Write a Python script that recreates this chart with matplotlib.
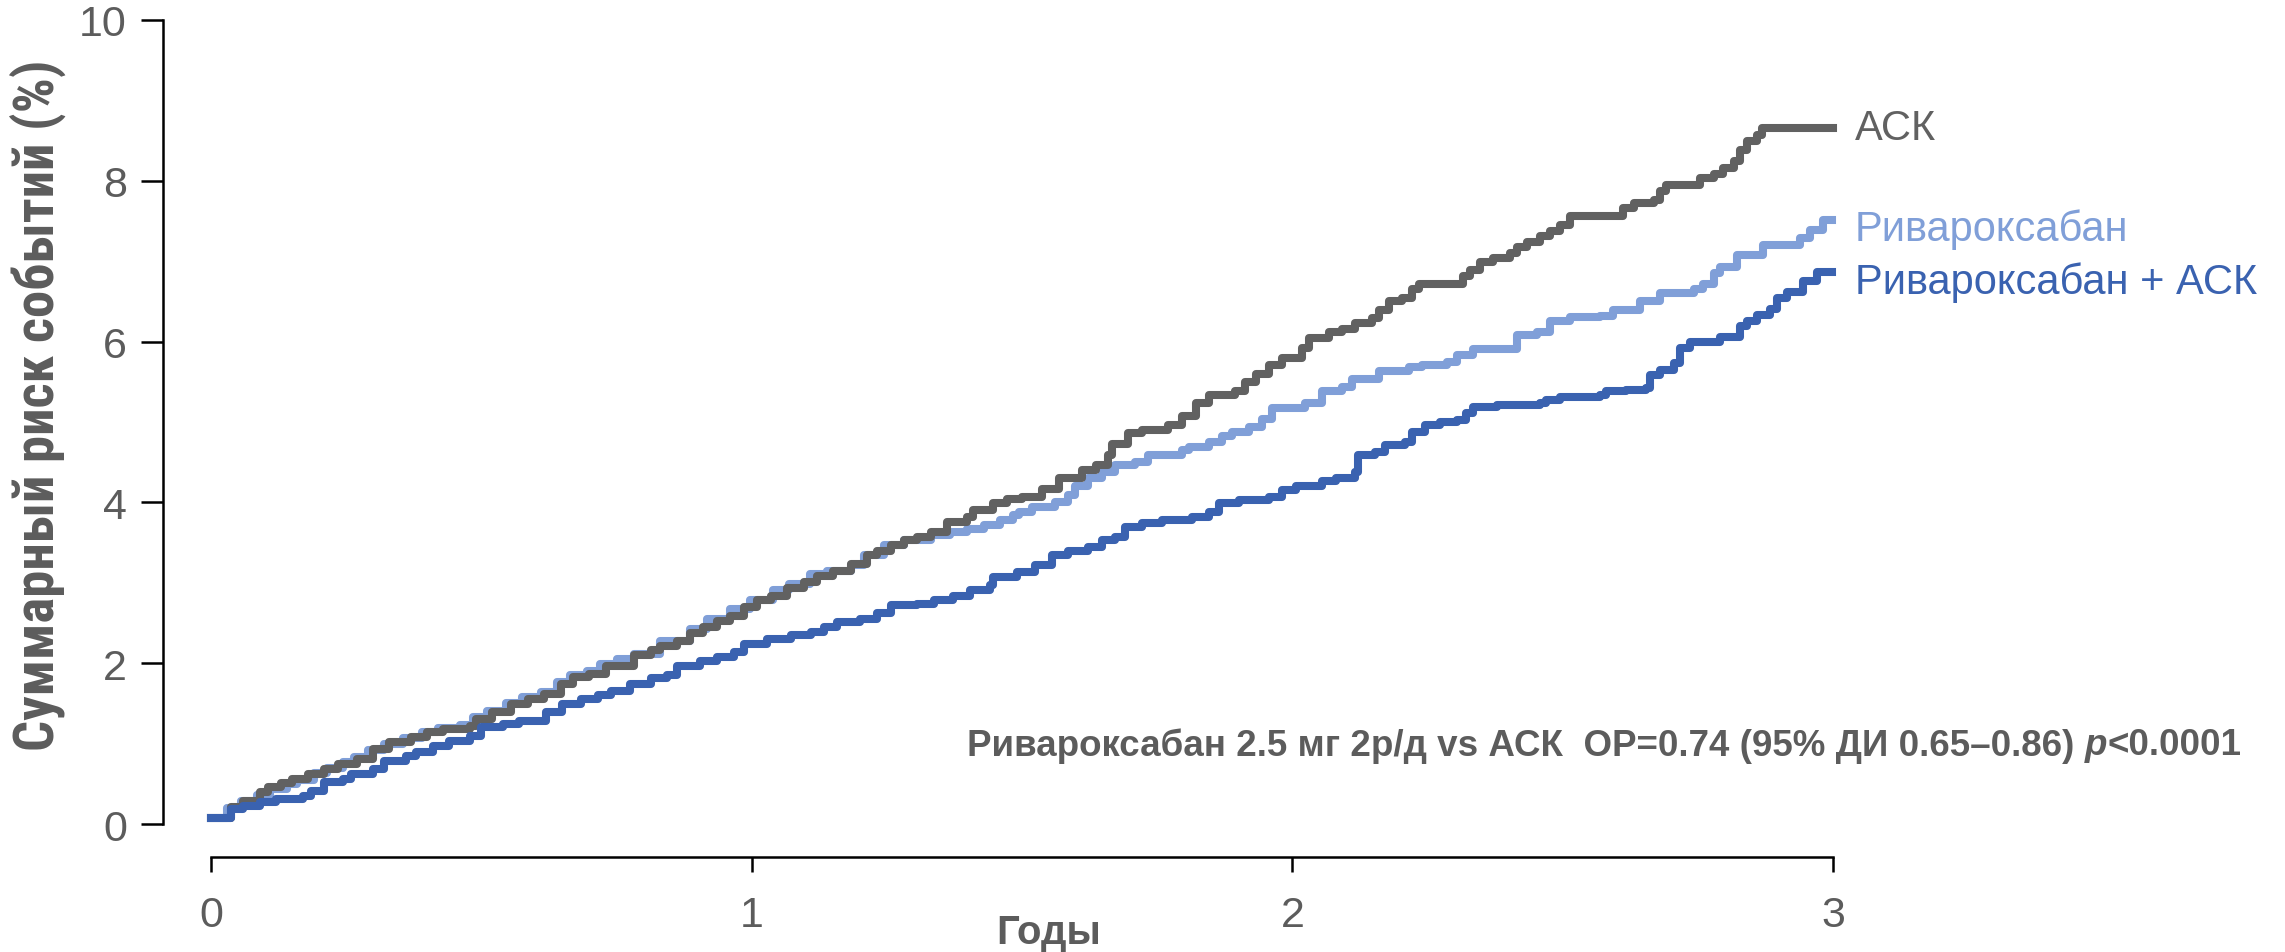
import matplotlib
matplotlib.use("Agg")
from matplotlib import pyplot as plt
from matplotlib import font_manager

# cumulative event risk (%)
ask_t = [0.00, 0.037, 0.06, 0.09, 0.105, 0.13, 0.15, 0.18, 0.21, 0.235, 0.27, 0.30, 0.33, 0.37,
         0.40, 0.43, 0.48, 0.49, 0.52, 0.555, 0.586, 0.616, 0.647, 0.67, 0.70, 0.73, 0.782,
         0.813, 0.831, 0.862, 0.886, 0.911, 0.936, 0.96, 0.985, 1.01, 1.035, 1.066, 1.096,
         1.121, 1.151, 1.183, 1.213, 1.232, 1.257, 1.281, 1.306, 1.331, 1.361, 1.398, 1.41,
         1.447, 1.472, 1.50, 1.537, 1.568, 1.611, 1.636, 1.66, 1.666, 1.697, 1.722, 1.771,
         1.796, 1.821, 1.845, 1.894, 1.913, 1.932, 1.956, 1.981, 2.018, 2.03, 2.067, 2.092,
         2.116, 2.147, 2.16, 2.178, 2.203, 2.222, 2.235, 2.316, 2.329, 2.347, 2.372, 2.403,
         2.415, 2.434, 2.458, 2.477, 2.495, 2.514, 2.612, 2.631, 2.668, 2.68, 2.692, 2.754,
         2.779, 2.797, 2.816, 2.828, 2.841, 2.859, 2.868, 3.00]
ask_v = [0.08, 0.21, 0.29, 0.40, 0.46, 0.51, 0.56, 0.62, 0.68, 0.75, 0.81, 0.93, 1.02, 1.08,
         1.15, 1.18, 1.22, 1.31, 1.39, 1.49, 1.56, 1.62, 1.74, 1.83, 1.87, 1.97, 2.10,
         2.16, 2.22, 2.28, 2.37, 2.45, 2.53, 2.59, 2.70, 2.78, 2.84, 2.93, 3.01,
         3.09, 3.15, 3.24, 3.34, 3.40, 3.47, 3.53, 3.57, 3.63, 3.76, 3.82, 3.90,
         3.99, 4.04, 4.07, 4.17, 4.30, 4.40, 4.46, 4.59, 4.73, 4.86, 4.90, 4.96,
         5.08, 5.23, 5.33, 5.38, 5.50, 5.60, 5.71, 5.79, 5.92, 6.04, 6.12, 6.16,
         6.23, 6.29, 6.39, 6.50, 6.54, 6.66, 6.71, 6.81, 6.89, 6.99, 7.04, 7.10,
         7.18, 7.24, 7.31, 7.37, 7.45, 7.56, 7.66, 7.72, 7.76, 7.87, 7.95, 8.03,
         8.09, 8.16, 8.24, 8.38, 8.49, 8.57, 8.66, 8.66]

riva_t = [0.00, 0.03, 0.055, 0.085, 0.11, 0.14, 0.16, 0.19, 0.215, 0.245, 0.265, 0.29, 0.32,
          0.355, 0.39, 0.42, 0.46, 0.485, 0.51, 0.545, 0.575, 0.61, 0.64, 0.665, 0.695, 0.72,
          0.751, 0.782, 0.831, 0.886, 0.917, 0.96, 0.997, 1.04, 1.07, 1.108, 1.14, 1.183,
          1.207, 1.244, 1.281, 1.331, 1.367, 1.398, 1.429, 1.46, 1.484, 1.495, 1.518, 1.562,
          1.586, 1.598, 1.623, 1.648, 1.672, 1.709, 1.734, 1.796, 1.808, 1.845, 1.87, 1.888,
          1.919, 1.944, 1.962, 2.024, 2.055, 2.092, 2.11, 2.16, 2.215, 2.24, 2.286, 2.304,
          2.335, 2.415, 2.452, 2.477, 2.514, 2.569, 2.594, 2.643, 2.68, 2.742, 2.76, 2.779,
          2.791, 2.822, 2.871, 2.939, 2.957, 2.982, 2.998]
riva_v = [0.08, 0.20, 0.28, 0.36, 0.43, 0.50, 0.55, 0.63, 0.70, 0.77, 0.83, 0.92, 1.00,
          1.07, 1.14, 1.19, 1.23, 1.33, 1.41, 1.50, 1.58, 1.64, 1.76, 1.85, 1.90, 1.99,
          2.05, 2.12, 2.28, 2.43, 2.55, 2.68, 2.78, 2.91, 2.99, 3.11, 3.15, 3.22,
          3.34, 3.47, 3.53, 3.59, 3.63, 3.67, 3.72, 3.78, 3.84, 3.88, 3.94, 4.00,
          4.09, 4.21, 4.30, 4.38, 4.46, 4.50, 4.59, 4.65, 4.69, 4.75, 4.82, 4.88,
          4.94, 5.04, 5.17, 5.23, 5.38, 5.44, 5.54, 5.63, 5.69, 5.71, 5.75, 5.83,
          5.91, 6.08, 6.12, 6.25, 6.30, 6.32, 6.39, 6.50, 6.60, 6.66, 6.72, 6.85,
          6.93, 7.08, 7.20, 7.29, 7.39, 7.51, 7.51]

combo_t = [0.00, 0.037, 0.06, 0.09, 0.12, 0.17, 0.185, 0.21, 0.245, 0.26, 0.30, 0.32, 0.36,
           0.38, 0.41, 0.44, 0.48, 0.50, 0.54, 0.57, 0.62, 0.65, 0.685, 0.715, 0.74, 0.775,
           0.813, 0.843, 0.862, 0.905, 0.936, 0.967, 0.985, 1.029, 1.072, 1.109, 1.133, 1.158,
           1.201, 1.232, 1.257, 1.306, 1.337, 1.373, 1.404, 1.441, 1.447, 1.49, 1.525, 1.555,
           1.586, 1.623, 1.648, 1.672, 1.691, 1.722, 1.759, 1.814, 1.845, 1.864, 1.901, 1.956,
           1.981, 2.006, 2.055, 2.08, 2.116, 2.122, 2.153, 2.172, 2.209, 2.222, 2.245, 2.273,
           2.304, 2.322, 2.335, 2.378, 2.458, 2.47, 2.495, 2.569, 2.581, 2.618, 2.655, 2.662,
           2.68, 2.705, 2.717, 2.736, 2.791, 2.828, 2.841, 2.859, 2.884, 2.896, 2.915, 2.945,
           2.97, 2.998]
combo_v = [0.08, 0.19, 0.22, 0.27, 0.31, 0.35, 0.41, 0.52, 0.56, 0.62, 0.68, 0.78, 0.85,
           0.90, 0.97, 1.03, 1.10, 1.21, 1.25, 1.28, 1.39, 1.49, 1.56, 1.60, 1.66, 1.74,
           1.81, 1.85, 1.97, 2.03, 2.08, 2.14, 2.24, 2.30, 2.35, 2.39, 2.45, 2.51,
           2.55, 2.62, 2.72, 2.74, 2.78, 2.84, 2.91, 2.97, 3.07, 3.13, 3.22, 3.34,
           3.40, 3.45, 3.53, 3.57, 3.69, 3.74, 3.78, 3.82, 3.88, 3.99, 4.03, 4.07,
           4.15, 4.21, 4.26, 4.30, 4.38, 4.59, 4.63, 4.71, 4.75, 4.88, 4.96, 5.00,
           5.02, 5.11, 5.19, 5.21, 5.23, 5.27, 5.31, 5.33, 5.38, 5.40, 5.42, 5.58,
           5.65, 5.73, 5.92, 6.00, 6.06, 6.19, 6.25, 6.33, 6.41, 6.54, 6.62, 6.75,
           6.87, 6.87]

series_names = ["АСК", "Ривароксабан", "Ривароксабан + АСК"]
y_ticks = [0, 2, 4, 6, 8, 10]
x_ticks = [0, 1, 2, 3]
note_parts = ["Ривароксабан 2.5 мг 2р/д vs АСК  ОР=0.74 (95% ДИ 0.65–0.86) ", "p", "<0.0001"]

grey = "#616161"
light = "#809fd8"
dark = "#3a62b0"
text_grey = "#5c5c5c"


def pick_font(names):
    for name in names:
        try:
            font_manager.findfont(name, fallback_to_default=False)
            return name
        except Exception:
            pass
    return "DejaVu Sans"


regular = pick_font(["Liberation Sans", "Arial", "DejaVu Sans"])
narrow = pick_font(["Liberation Sans Narrow", "Roboto Condensed", "Liberation Sans"])

fig = plt.figure(figsize=(22.85, 9.53), dpi=100)
ax = fig.add_axes([0.0923, 0.1343, 0.7099, 0.8437])

ax.plot(riva_t, riva_v, drawstyle="steps-post", color=light, lw=5.8, clip_on=False)
ax.plot(ask_t, ask_v, drawstyle="steps-post", color=grey, lw=5.8, clip_on=False)
ax.plot(combo_t, combo_v, drawstyle="steps-post", color=dark, lw=5.8, clip_on=False)

ax.set_xlim(0, 3)
ax.set_ylim(0, 10)
ax.set_xticks(x_ticks)
ax.set_yticks(y_ticks)
for s in ["top", "right"]:
    ax.spines[s].set_visible(False)
ax.spines["left"].set_position(("outward", 34.5))
ax.spines["bottom"].set_position(("outward", 24))
for s in ["left", "bottom"]:
    ax.spines[s].set_linewidth(1.8)
ax.tick_params(axis="y", length=16, width=1.8, pad=10, labelsize=31,
               labelcolor=text_grey)
ax.tick_params(axis="x", length=11, width=1.8, pad=16, labelsize=31,
               labelcolor=text_grey)
for lab in ax.get_xticklabels() + ax.get_yticklabels():
    lab.set_fontfamily(regular)

# end-of-line labels
ax.text(3.04, ask_v[-1], series_names[0], color=grey, fontsize=30, family=regular,
        va="center", ha="left")
ax.text(3.04, 7.41, series_names[1], color=light, fontsize=30, family=regular,
        va="center", ha="left")
ax.text(3.04, 6.74, series_names[2], color=dark, fontsize=30, family=regular,
        va="center", ha="left")

fig.canvas.draw()
renderer = fig.canvas.get_renderer()

ylab = fig.text(0.0165, 0.575, "Суммарный риск событий (%)", rotation=90, ha="center",
                va="center", fontsize=30, fontweight="bold", family=narrow, color=text_grey)
h = ylab.get_window_extent(renderer).height
ylab.set_fontsize(30 * 692 / h)

fig.text(1049 / 2285, 1 - 933 / 953, "Годы", ha="center", va="center", fontsize=29,
         fontweight="bold", family=regular, color=text_grey)

# hazard ratio note, with an italic p; sized to the reference width
x0 = 967 / 2285
y0 = 1 - 746 / 953
styles = ["normal", "italic", "normal"]
texts = [fig.text(x0, y0, p, fontsize=26, fontweight="bold", fontstyle=st, family=regular,
                  color=text_grey, va="center", ha="left")
         for p, st in zip(note_parts, styles)]
total = sum(t.get_window_extent(renderer).width for t in texts)
size = 26 * 1275 / total
x = x0
for t in texts:
    t.set_fontsize(size)
    t.set_x(x)
    x += t.get_window_extent(renderer).width / fig.bbox.width

fig.savefig("out.png", dpi=100)
